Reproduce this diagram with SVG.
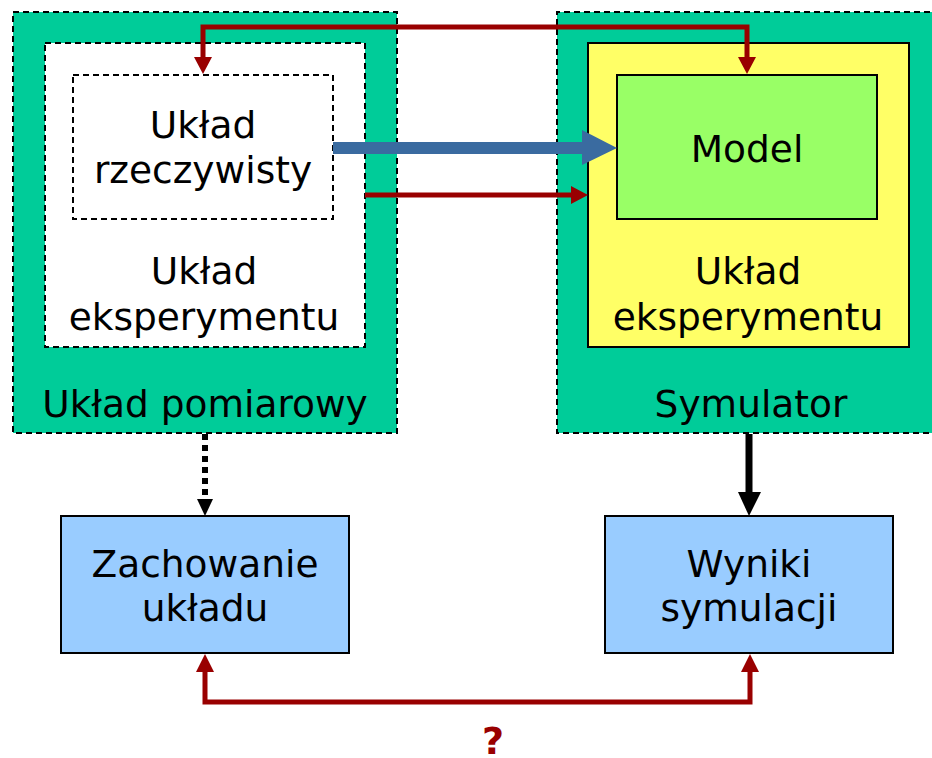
<svg xmlns="http://www.w3.org/2000/svg" width="932" height="758" viewBox="0 0 932 758">
<defs>
<style>
text{font-family:"DejaVu Sans","Verdana",sans-serif;font-size:37.5px;fill:#000;text-anchor:middle}
.dash{stroke:#000;stroke-width:2;stroke-dasharray:6 4}
.solid{stroke:#000;stroke-width:2}
.red{fill:none;stroke:#990000;stroke-width:5}
</style>
</defs>
<rect width="932" height="758" fill="#fff"/>
<g id="uklad-pomiarowy">
<rect x="13" y="12" width="384" height="421" fill="#00CC99" class="dash"/>
<text x="205" y="417">Układ pomiarowy</text>
</g>
<g id="uklad-eksperymentu-left">
<rect x="45" y="43" width="320" height="304" fill="#fff" class="dash"/>
<text x="204" y="284">Układ</text>
<text x="204" y="330">eksperymentu</text>
</g>
<g id="uklad-rzeczywisty">
<rect x="73" y="75" width="260" height="144" fill="#fff" class="dash"/>
<text x="203" y="138">Układ</text>
<text x="203" y="183">rzeczywisty</text>
</g>
<g id="symulator">
<path d="M940,12 H557 V433 H940" fill="#00CC99" class="dash"/>
<text x="751" y="417">Symulator</text>
</g>
<g id="uklad-eksperymentu-right">
<rect x="588" y="43" width="321" height="304" fill="#FFFF66" class="solid"/>
<text x="748" y="284">Układ</text>
<text x="748" y="330">eksperymentu</text>
</g>
<g id="model">
<rect x="617" y="75" width="260" height="144" fill="#99FF66" class="solid"/>
<text x="747" y="162">Model</text>
</g>
<g id="zachowanie">
<rect x="61" y="516" width="288" height="137" fill="#99CCFF" class="solid"/>
<text x="205" y="577">Zachowanie</text>
<text x="205" y="621">układu</text>
</g>
<g id="wyniki">
<rect x="605" y="516" width="288" height="137" fill="#99CCFF" class="solid"/>
<text x="749" y="577">Wyniki</text>
<text x="749" y="621">symulacji</text>
</g>
<g id="connectors">
<path class="red" d="M203,60 V27 H747 V60"/>
<path d="M194,57 L212,57 L203,74 Z M738,57 L756,57 L747,74 Z" fill="#990000"/>
<path d="M333,148 H584" stroke="#3A6BA0" stroke-width="12" fill="none"/>
<path d="M582,130 L617,148 L582,165 Z" fill="#3A6BA0"/>
<path d="M365,195 H574" class="red"/>
<path d="M571,186 L588,195 L571,204 Z" fill="#990000"/>
<path d="M205,434 V500" stroke="#000" stroke-width="6" stroke-dasharray="6 5" fill="none"/>
<path d="M197,499 L213,499 L205,516 Z" fill="#000"/>
<path d="M749,434 V494" stroke="#000" stroke-width="7" fill="none"/>
<path d="M738,492 L761,492 L749,516 Z" fill="#000"/>
<path class="red" d="M205,670 V702 H750 V670"/>
<path d="M196,672 L214,672 L205,654 Z M741,672 L759,672 L750,654 Z" fill="#990000"/>
</g>
<text x="493" y="754" style="font-size:38px;font-weight:bold;fill:#990000">?</text>
</svg>
